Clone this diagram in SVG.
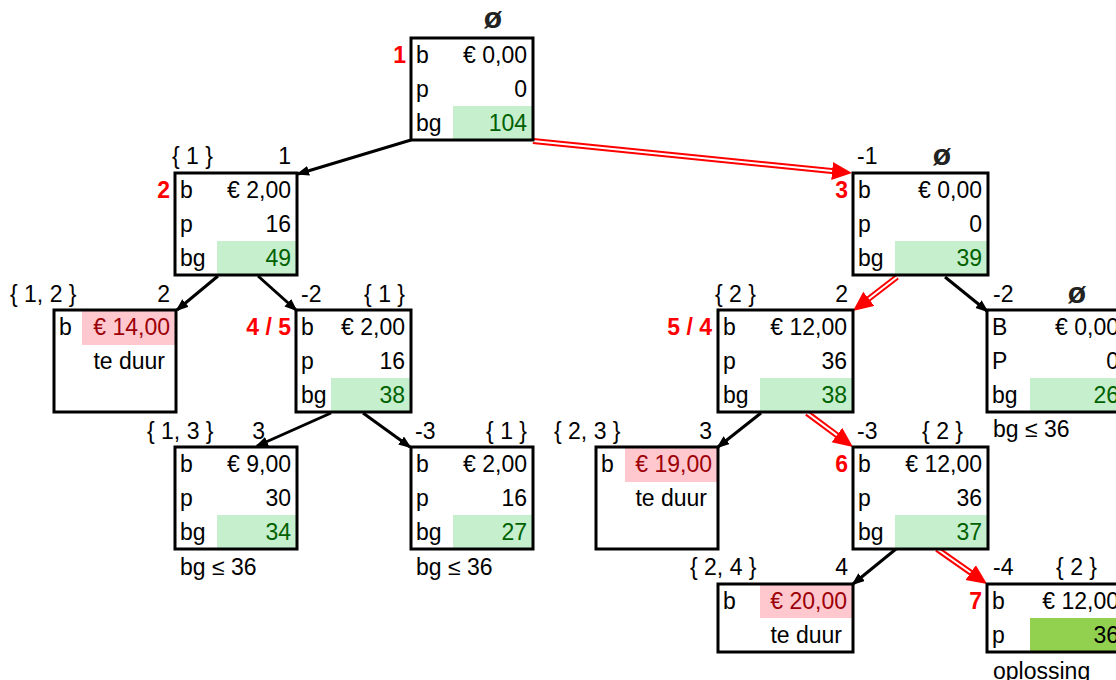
<svg xmlns="http://www.w3.org/2000/svg" width="1116" height="680" viewBox="0 0 1116 680">
<style>
text{font-family:"Liberation Sans",Arial,sans-serif;font-size:23px;fill:#000}
.r{text-anchor:end}
.m{text-anchor:middle}
.n{fill:#FF0000;font-weight:bold}
.g{fill:#006100}
.pk{fill:#9C0006}
.phi{font-weight:bold;fill:#222;font-size:30px}
.box{fill:none;stroke:#000;stroke-width:3}
.gf{fill:#C6EFCE}
.gs{fill:#92D050}
.pf{fill:#FFC7CE}
.bl{stroke:#000;stroke-width:3;fill:none}
.rd{stroke:#FF0000;stroke-width:6;fill:none}
.wh{stroke:#fff;stroke-width:2;fill:none}
</style>
<defs>
<marker id="ab" markerUnits="userSpaceOnUse" markerWidth="14" markerHeight="12" refX="11" refY="5" orient="auto"><path d="M0,0 L13,5 L0,10 z" fill="#000"/></marker>
<marker id="ar" markerUnits="userSpaceOnUse" markerWidth="22" markerHeight="20" refX="2" refY="9" orient="auto"><path d="M0,0 L20,9 L0,18 z" fill="#FF0000"/></marker>
</defs>
<rect width="1116" height="680" fill="#fff"/>
<g id="connectors">
<line class="bl" x1="411" y1="140" x2="298" y2="174" marker-end="url(#ab)"/>
<line class="bl" x1="218" y1="276" x2="177" y2="310" marker-end="url(#ab)"/>
<line class="bl" x1="258" y1="276" x2="296" y2="310" marker-end="url(#ab)"/>
<line class="bl" x1="331" y1="413" x2="257" y2="446" marker-end="url(#ab)"/>
<line class="bl" x1="363" y1="413" x2="410" y2="447" marker-end="url(#ab)"/>
<line class="bl" x1="945" y1="277" x2="987" y2="311" marker-end="url(#ab)"/>
<line class="bl" x1="761" y1="413" x2="718" y2="447" marker-end="url(#ab)"/>
<line class="bl" x1="896" y1="549" x2="853" y2="584" marker-end="url(#ab)"/>
<line class="rd" x1="533" y1="141" x2="834.1" y2="171.2" marker-end="url(#ar)"/>
<line class="wh" x1="533" y1="141" x2="832.1" y2="171.0"/>
<line class="rd" x1="897" y1="277" x2="867.2" y2="300.0" marker-end="url(#ar)"/>
<line class="wh" x1="897" y1="277" x2="868.8" y2="298.8"/>
<line class="rd" x1="807" y1="413" x2="838.5" y2="436.3" marker-end="url(#ar)"/>
<line class="wh" x1="807" y1="413" x2="836.9" y2="435.1"/>
<line class="rd" x1="937" y1="549" x2="972.3" y2="573.7" marker-end="url(#ar)"/>
<line class="wh" x1="937" y1="549" x2="970.6" y2="572.5"/>
</g>
<g id="node1">
<text class="phi m" x="493" y="28">ø</text>
<text class="n r" x="406" y="63">1</text>
<rect class="gf" x="453" y="106" width="80" height="34"/>
<rect class="box" x="411" y="38" width="122" height="102"/>
<text x="416" y="63">b</text><text class="r" x="527" y="63">€ 0,00</text>
<text x="416" y="97">p</text><text class="r" x="527" y="97">0</text>
<text x="416" y="131">bg</text><text class="r g" x="527" y="131">104</text>
</g>
<g id="node2">
<text x="172" y="164">{ 1 }</text><text class="r" x="291" y="164">1</text>
<text class="n r" x="170" y="198">2</text>
<rect class="gf" x="217" y="241" width="80" height="34"/>
<rect class="box" x="175" y="173" width="122" height="102"/>
<text x="180" y="198">b</text><text class="r" x="291" y="198">€ 2,00</text>
<text x="180" y="232">p</text><text class="r" x="291" y="232">16</text>
<text x="180" y="266">bg</text><text class="r g" x="291" y="266">49</text>
</g>
<g id="node-14">
<text x="10" y="302">{ 1, 2 }</text><text class="r" x="170" y="302">2</text>
<rect class="pf" x="82" y="310" width="94" height="35"/>
<rect class="box" x="54" y="310" width="122" height="102"/>
<text x="59" y="335">b</text><text class="r pk" x="170" y="335">€ 14,00</text>
<text class="r" x="165" y="369">te duur</text>
</g>
<g id="node45">
<text x="301" y="302">-2</text><text class="r" x="405" y="302">{ 1 }</text>
<text class="n r" x="291" y="335">4 / 5</text>
<rect class="gf" x="331" y="378" width="80" height="34"/>
<rect class="box" x="296" y="310" width="115" height="102"/>
<text x="301" y="335">b</text><text class="r" x="405" y="335">€ 2,00</text>
<text x="301" y="369">p</text><text class="r" x="405" y="369">16</text>
<text x="301" y="403">bg</text><text class="r g" x="405" y="403">38</text>
</g>
<g id="node-9">
<text x="147" y="439">{ 1, 3 }</text><text class="r" x="265" y="439">3</text>
<rect class="gf" x="217" y="515" width="80" height="34"/>
<rect class="box" x="175" y="447" width="122" height="102"/>
<text x="180" y="472">b</text><text class="r" x="291" y="472">€ 9,00</text>
<text x="180" y="506">p</text><text class="r" x="291" y="506">30</text>
<text x="180" y="540">bg</text><text class="r g" x="291" y="540">34</text>
<text x="180" y="575">bg ≤ 36</text>
</g>
<g id="node-27">
<text x="415" y="439">-3</text><text class="r" x="527" y="439">{ 1 }</text>
<rect class="gf" x="453" y="515" width="80" height="34"/>
<rect class="box" x="411" y="447" width="122" height="102"/>
<text x="416" y="472">b</text><text class="r" x="527" y="472">€ 2,00</text>
<text x="416" y="506">p</text><text class="r" x="527" y="506">16</text>
<text x="416" y="540">bg</text><text class="r g" x="527" y="540">27</text>
<text x="416" y="575">bg ≤ 36</text>
</g>
<g id="node3">
<text x="857" y="164">-1</text><text class="phi m" x="942" y="165">ø</text>
<text class="n r" x="848" y="198">3</text>
<rect class="gf" x="895" y="241" width="93" height="34"/>
<rect class="box" x="853" y="173" width="135" height="102"/>
<text x="858" y="198">b</text><text class="r" x="982" y="198">€ 0,00</text>
<text x="858" y="232">p</text><text class="r" x="982" y="232">0</text>
<text x="858" y="266">bg</text><text class="r g" x="982" y="266">39</text>
</g>
<g id="node54">
<text x="715" y="302">{ 2 }</text><text class="r" x="848" y="302">2</text>
<text class="n r" x="712" y="335">5 / 4</text>
<rect class="gf" x="760" y="378" width="93" height="34"/>
<rect class="box" x="718" y="310" width="135" height="102"/>
<text x="723" y="335">b</text><text class="r" x="847" y="335">€ 12,00</text>
<text x="723" y="369">p</text><text class="r" x="847" y="369">36</text>
<text x="723" y="403">bg</text><text class="r g" x="847" y="403">38</text>
</g>
<g id="node-r2">
<text x="993" y="302">-2</text><text class="phi m" x="1077" y="303">ø</text>
<rect class="gf" x="1030" y="378" width="94" height="34"/>
<rect class="box" x="987" y="310" width="137" height="102"/>
<text x="992" y="335">B</text><text class="r" x="1119" y="335">€ 0,00</text>
<text x="992" y="369">P</text><text class="r" x="1119" y="369">0</text>
<text x="992" y="403">bg</text><text class="r g" x="1119" y="403">26</text>
<text x="993" y="437">bg ≤ 36</text>
</g>
<g id="node-19">
<text x="554" y="439">{ 2, 3 }</text><text class="r" x="712" y="439">3</text>
<rect class="pf" x="625" y="447" width="93" height="35"/>
<rect class="box" x="596" y="447" width="122" height="102"/>
<text x="601" y="472">b</text><text class="r pk" x="712" y="472">€ 19,00</text>
<text class="r" x="707" y="506">te duur</text>
</g>
<g id="node6">
<text x="857" y="439">-3</text><text class="r" x="963" y="439">{ 2 }</text>
<text class="n r" x="848" y="472">6</text>
<rect class="gf" x="895" y="515" width="93" height="34"/>
<rect class="box" x="853" y="447" width="135" height="102"/>
<text x="858" y="472">b</text><text class="r" x="982" y="472">€ 12,00</text>
<text x="858" y="506">p</text><text class="r" x="982" y="506">36</text>
<text x="858" y="540">bg</text><text class="r g" x="982" y="540">37</text>
</g>
<g id="node-20">
<text x="690" y="575">{ 2, 4 }</text><text class="r" x="848" y="575">4</text>
<rect class="pf" x="760" y="584" width="93" height="34"/>
<rect class="box" x="718" y="584" width="135" height="68"/>
<text x="723" y="609">b</text><text class="r pk" x="847" y="609">€ 20,00</text>
<text class="r" x="842" y="643">te duur</text>
</g>
<g id="node7">
<text x="993" y="575">-4</text><text class="r" x="1097" y="575">{ 2 }</text>
<text class="n r" x="982" y="609">7</text>
<rect class="gs" x="1030" y="618" width="94" height="34"/>
<rect class="box" x="987" y="584" width="137" height="68"/>
<text x="992" y="609">b</text><text class="r" x="1119" y="609">€ 12,00</text>
<text x="992" y="643">p</text><text class="r" x="1119" y="643">36</text>
<text x="993" y="679">oplossing</text>
</g>
</svg>
